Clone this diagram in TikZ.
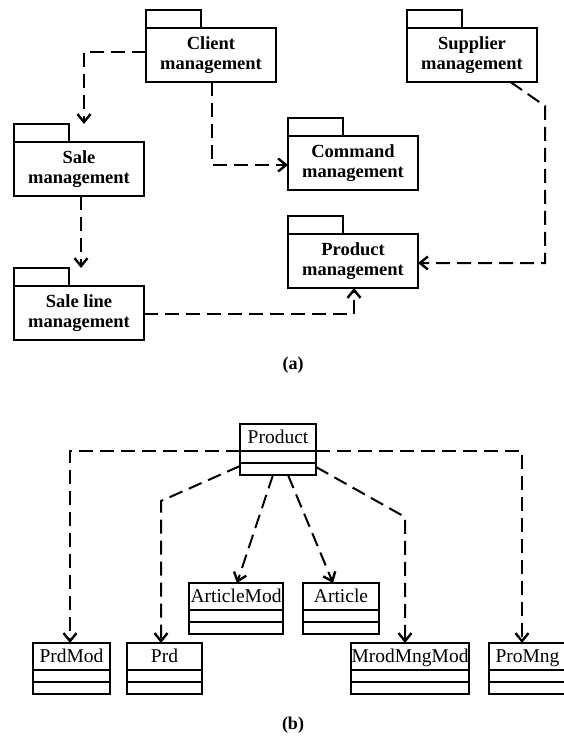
\documentclass[tikz,border=0pt]{standalone}
\usepackage{fontspec}
\setmainfont{Liberation Serif}
\usetikzlibrary{arrows.meta,calc}
\tikzset{
  pkgbody/.style={draw, line width=2.2pt, minimum width=130pt, minimum height=54pt,
    inner sep=0pt, outer sep=0pt, align=center,
    font=\fontsize{18.5}{19.5}\selectfont\bfseries},
  pkgtab/.style={draw, line width=2.2pt},
  clsname/.style={draw, line width=2.2pt, minimum height=27pt, inner sep=0pt, outer sep=0pt,
    text height=12.5pt, text depth=0pt, font=\fontsize{19.5}{20}\selectfont},
  clspart/.style={draw, line width=2.2pt},
  dep/.style={line width=2pt, dash pattern=on 14pt off 7pt,
    -{Straight Barb[length=8pt,width=13pt,line width=2.4pt]}},
  caplabel/.style={font=\fontsize{18}{20}\selectfont\bfseries},
}
\newcommand\pkgnode[4]{%
  \node[pkgbody, anchor=north west] (#1) at (#2,#3) {#4};
  \draw[pkgtab] (#1.north west) rectangle ++(55,-18);
}
\newcommand\clsnode[5]{%
  \node[clsname, anchor=north west, minimum width=#4pt] (#1) at (#2,#3) {#5};
  \draw[clspart] (#1.south west) rectangle ($(#1.south east)+(0,12)$);
  \draw[clspart] ($(#1.south west)+(0,12)$) rectangle ($(#1.south east)+(0,24)$);
}
\begin{document}
\begin{tikzpicture}[x=1pt,y=-1pt]
\useasboundingbox (0,0) rectangle (564,738);

% ---------- (a) ----------
\pkgnode{client}{146}{28}{Client\\management}
\pkgnode{supplier}{407}{28}{Supplier\\management}
\pkgnode{sale}{14}{142}{Sale\\management}
\pkgnode{command}{288}{136}{Command\\management}
\pkgnode{product}{288}{234}{Product\\management}
\pkgnode{saleline}{14}{286}{Sale line\\management}

\coordinate (sbend) at (545,106);
\draw[dep] ($(client.west)+(0,-3)$) -| ($(sale.north)+(5,-18)$);
\draw[dep] ($(client.south)+(1,0)$) |- ($(command.west)+(0,2)$);
\draw[dep] ($(supplier.south)+(38.5,0)$) -- (sbend) |- ($(product.east)+(0,2)$);
\draw[dep] ($(sale.south)+(2,0)$) -- ($(saleline.north)+(2,-18)$);
\draw[dep] ($(saleline.east)+(0,0.5)$) -| ($(product.south)+(1,0)$);

\node[caplabel] (capa) at (293,365) {(a)};

% ---------- (b) ----------
\clsnode{prod}{240}{424}{76}{Product}
\clsnode{artmod}{189}{583}{94}{ArticleMod}
\clsnode{article}{303}{583}{76}{Article}
\clsnode{prdmod}{33}{643}{77}{PrdMod}
\clsnode{prd}{127}{643}{75}{Prd}
\clsnode{mrod}{351}{643}{118}{MrodMngMod}
\clsnode{promng}{489}{643}{77}{ProMng}

\coordinate (prdbend) at (161,501);
\coordinate (mrodbend) at (405,517);
\draw[dep] (prod.south west) -| ($(prdmod.north)+(-1.5,0)$);
\draw[dep] (prod.south east) -| ($(promng.north west)+(33,0)$);
\draw[dep] ($(prod.south west)+(0,15)$) -- (prdbend) -- (prdbend |- prd.north);
\draw[dep] ($(prod.south east)+(0,16)$) -- (mrodbend) -- (mrodbend |- mrod.north);
\draw[dep] ($(prod.south west)+(33,24)$) -- ($(artmod.north)+(1,0)$);
\draw[dep] ($(prod.south west)+(48,24)$) -- ($(article.north)+(-8,0)$);

\node[caplabel] (capb) at (293,725) {(b)};
\end{tikzpicture}
\end{document}
